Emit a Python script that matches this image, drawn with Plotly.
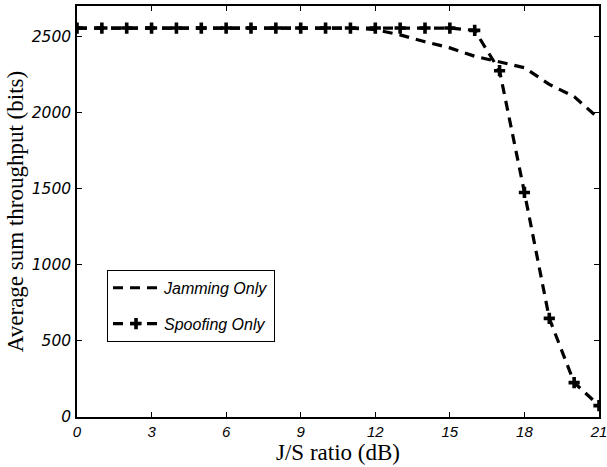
import plotly.graph_objects as go

# J/S ratio in dB
js_db = list(range(0, 22))

# Average sum throughput (bits)
jamming_only = [2555, 2555, 2555, 2555, 2555, 2555, 2555, 2555, 2555, 2555, 2555,
                2555, 2545, 2510, 2465, 2425, 2370, 2330, 2295, 2185, 2105, 1960]
spoofing_only = [2555, 2555, 2555, 2555, 2555, 2555, 2555, 2555, 2555, 2555, 2555,
                 2555, 2555, 2555, 2555, 2555, 2540, 2275, 1475, 648, 226, 75]

x_ticks = [0, 3, 6, 9, 12, 15, 18, 21]
y_ticks = [0, 500, 1000, 1500, 2000, 2500]

dash = "10px,7px"

fig = go.Figure()
fig.add_trace(go.Scatter(
    x=js_db, y=jamming_only, mode="lines", name="Jamming Only",
    legendgroup="jam",
    line=dict(color="black", width=3.2, dash=dash),
))
fig.add_trace(go.Scatter(
    x=js_db, y=spoofing_only, mode="lines+markers", name="Spoofing Only",
    legendgroup="spoof",
    line=dict(color="black", width=3.2, dash=dash),
    marker=dict(symbol="cross-thin", size=8, color="black",
                line=dict(color="black", width=3.6)),
))

x_tick_font = dict(family="Liberation Sans, Arial, sans-serif", size=15,
                   color="black", style="italic")
y_tick_font = dict(family="DejaVu Sans, sans-serif", size=15.5,
                   color="black", style="italic")
title_font = dict(family="Liberation Serif, Times New Roman, serif", size=23,
                  color="black")

fig.update_layout(
    width=607, height=467,
    margin=dict(l=77, r=8, t=6, b=50, autoexpand=False),
    paper_bgcolor="white", plot_bgcolor="white",
    showlegend=True,
    legend=dict(
        x=0.0575, y=0.358, xanchor="left", yanchor="top",
        bgcolor="white", bordercolor="black", borderwidth=1,
        font=dict(family="Liberation Sans, Arial, sans-serif", size=16,
                  color="black", style="italic"),
        tracegroupgap=12, itemwidth=46,
    ),
    xaxis=dict(
        range=[0, 21], tickmode="array", tickvals=x_ticks,
        ticktext=[str(v) for v in x_ticks],
        ticks="inside", ticklen=5, tickwidth=1, tickcolor="black",
        showline=True, linecolor="black", linewidth=1.5, mirror="ticks",
        showgrid=False, zeroline=False, tickfont=x_tick_font,
        ticklabeloverflow="allow", automargin=False,
        title=dict(text="J/S ratio (dB)", font=title_font, standoff=0),
    ),
    yaxis=dict(
        range=[0, 2700], tickmode="array", tickvals=y_ticks,
        ticktext=[str(v) for v in y_ticks],
        ticks="inside", ticklen=5, tickwidth=1, tickcolor="black",
        showline=True, linecolor="black", linewidth=1.5, mirror="ticks",
        showgrid=False, zeroline=False, tickfont=y_tick_font,
        ticklabelstandoff=1, automargin=False,
        title=dict(text="Average sum throughput (bits)", font=title_font,
                   standoff=2),
    ),
)

fig.write_html("out.html")
